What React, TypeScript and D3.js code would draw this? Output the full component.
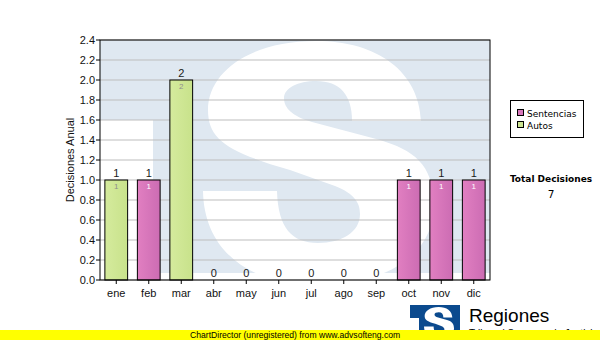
import React from "react";
import * as d3 from "d3";

const months = ["ene", "feb", "mar", "abr", "may", "jun", "jul", "ago", "sep", "oct", "nov", "dic"];
const sentencias = [0, 1, 0, 0, 0, 0, 0, 0, 0, 1, 1, 1];
const autos = [1, 0, 2, 0, 0, 0, 0, 0, 0, 0, 0, 0];
const seriesNames = ["Sentencias", "Autos"];
const seriesColors = ["#d877bb", "#cde592"];
const innerLabelColors = ["#ffffff", "#8f8f8f"];
const yTicks = [0, 0.2, 0.4, 0.6, 0.8, 1.0, 1.2, 1.4, 1.6, 1.8, 2.0, 2.2, 2.4];
const totalLabel = "Total Decisiones";

const W = 600, H = 340;
const PL = 100, PR = 490, PT = 40, PB = 280;

// decorative "S" watermark outline (background image of the chart)
const S_PATH =
  "M 421 121 C 419 72, 378 41, 316 41 C 250 41, 208 72, 208 110 " +
  "C 208 140, 228 152, 290 170 L 335 186 C 355 194, 360 203, 360 214 " +
  "C 360 232, 342 243, 318 243 C 292 243, 278 228, 277 191 L 203 191 " +
  "C 204 250, 248 285, 318 285 C 392 285, 434 250, 434 206 " +
  "C 434 163, 412 150, 380 140 L 312 122 C 292 116, 284 108, 284 98 " +
  "C 284 88, 298 81, 316 81 C 340 81, 352 95, 352 121 Z";

export default function App() {
  const x = d3.scaleBand<string>().domain(months).range([PL, PR]).paddingInner(0.3).paddingOuter(0.15);
  const y = d3.scaleLinear().domain([0, 2.4]).range([PB, PT]);
  const table = months.map((m, i) => ({ month: m, Sentencias: sentencias[i], Autos: autos[i] }));
  const stack = d3.stack<any>().keys(seriesNames)(table);
  const totals = months.map((_, i) => sentencias[i] + autos[i]);
  const grand = d3.sum(totals);
  const axisFont = "'Liberation Sans', Arial, sans-serif";
  const legFont = "'DejaVu Sans', Verdana, sans-serif";

  return (
    <svg width={W} height={H} style={{ position: "absolute", left: 0, top: 0, background: "#fff" }}>
      <defs>
        <clipPath id="plotclip">
          <rect x={PL} y={PT} width={PR - PL} height={PB - PT} />
        </clipPath>
        <linearGradient id="g0" x1="0" x2="1" y1="0" y2="0">
          <stop offset="0" stopColor="#e17fc1" />
          <stop offset="1" stopColor="#cc6cb3" />
        </linearGradient>
        <linearGradient id="g1" x1="0" x2="1" y1="0" y2="0">
          <stop offset="0" stopColor="#d5eb9d" />
          <stop offset="1" stopColor="#c8e28b" />
        </linearGradient>
      </defs>
      <rect x={0} y={0} width={W} height={H} fill="#fff" />
      {/* watermark */}
      <g clipPath="url(#plotclip)">
        <rect x={PL} y={PT} width={PR - PL} height={273 - PT} fill="#dfe8f1" />
        <rect x={PL} y={120} width={53} height={PB - 120} fill="#fff" />
        <path d={S_PATH} fill="#fff" />
      </g>
      {/* grid */}
      {yTicks.map((t) => (
        <line key={"g" + t} x1={PL} x2={PR} y1={y(t)} y2={y(t)} stroke="#bdbdbd" strokeWidth={1} />
      ))}
      {/* bars */}
      {stack.map((layer, si) =>
        layer.map((d, i) => {
          const v = d[1] - d[0];
          if (v <= 0) return null;
          const bx = x(months[i])!;
          const bw = x.bandwidth();
          return (
            <g key={si + "-" + i}>
              <rect x={bx} y={y(d[1])} width={bw} height={y(d[0]) - y(d[1])}
                fill={`url(#g${si})`} stroke="#000" strokeWidth={1} />
              <text x={bx + bw / 2} y={y(d[1]) + 9} fontFamily={axisFont} fontSize={8}
                fill={innerLabelColors[si]} textAnchor="middle">{v}</text>
            </g>
          );
        })
      )}
      {/* totals */}
      {totals.map((t, i) => (
        <text key={"t" + i} x={x(months[i])! + x.bandwidth() / 2} y={y(t) - 3} fontFamily={axisFont}
          fontSize={11} fill="#1a1a1a" textAnchor="middle">{t}</text>
      ))}
      {/* frame */}
      <rect x={PL} y={PT} width={PR - PL} height={PB - PT} fill="none" stroke="#000" strokeWidth={1} />
      {/* y axis */}
      {yTicks.map((t) => (
        <g key={"y" + t}>
          <line x1={PL - 4} x2={PL} y1={y(t)} y2={y(t)} stroke="#000" />
          <text x={PL - 5} y={y(t) + 4} fontFamily={axisFont} fontSize={11} fill="#111" textAnchor="end">
            {t.toFixed(1)}
          </text>
        </g>
      ))}
      <text transform={`translate(74,${(PT + PB) / 2}) rotate(-90)`} fontFamily={axisFont} fontSize={11}
        fill="#111" textAnchor="middle">Decisiones Anual</text>
      {/* x axis */}
      {months.map((m) => (
        <g key={"x" + m}>
          <line x1={x(m)! + x.bandwidth() / 2} x2={x(m)! + x.bandwidth() / 2} y1={PB} y2={PB + 4} stroke="#000" />
          <text x={x(m)! + x.bandwidth() / 2} y={297} fontFamily={axisFont} fontSize={11} fill="#111"
            textAnchor="middle">{m}</text>
        </g>
      ))}
      {/* legend */}
      <rect x={510.5} y={100.5} width={73} height={37} fill="#fff" stroke="#000" />
      {seriesNames.map((s, i) => (
        <g key={"l" + s}>
          <rect x={517.5} y={109.5 + i * 12} width={6} height={6} fill={seriesColors[i]} stroke="#000" />
          <text x={527} y={117 + i * 12} fontFamily={legFont} fontSize={9} fill="#000">{s}</text>
        </g>
      ))}
      <text x={551} y={182} fontFamily={legFont} fontSize={9} fontWeight="bold" fill="#000" textAnchor="middle">
        {totalLabel}
      </text>
      <text x={551} y={198} fontFamily={legFont} fontSize={10.5} fill="#000" textAnchor="middle">{grand}</text>
      {/* logo */}
      <rect x={410} y={305} width={50} height={35} fill="#0b4a8e" />
      <rect x={410} y={318} width={9} height={22} fill="#fff" />
      <path d={S_PATH} fill="#fff" transform="translate(397.6,301.7) scale(0.13)" />
      <text x={469} y={322} fontFamily={axisFont} fontSize={19} fill="#000">Regiones</text>
      <text x={469} y={336.5} fontFamily={axisFont} fontSize={10} fill="#000">Tribunal Supremo de Justicia</text>
      {/* banner */}
      <rect x={0} y={330} width={W} height={10} fill="#ffff00" />
      <text x={190} y={338} fontFamily={axisFont} fontSize={8.6} fill="#000">
        ChartDirector (unregistered) from www.advsofteng.com
      </text>
    </svg>
  );
}
